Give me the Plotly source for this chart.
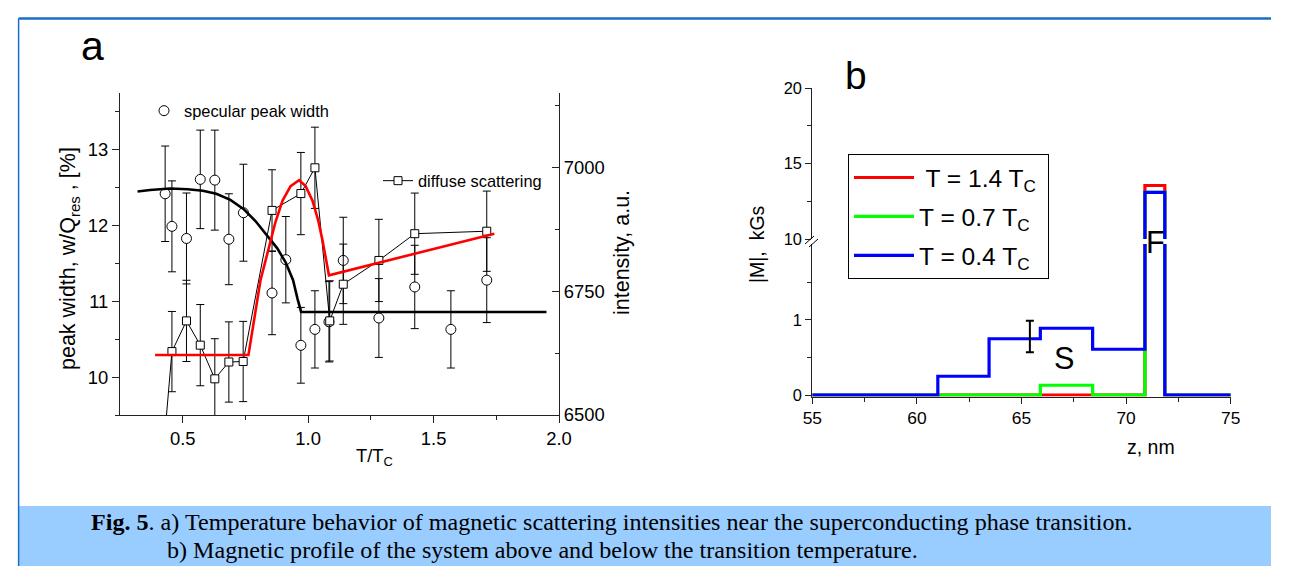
import plotly.graph_objects as go

# Measured placement of the figure in the photographed page: the figure's area
# lands on x 18..1271 and y 17..566 of the picture, so positions below are given
# in picture pixels and converted to paper fractions.
W, H = 1276, 568
X0, SX = 18.0, 1253.0
Y0, SY = 17.0, 549.0
def px(x):
    return (x - X0) / SX
def py(y):
    return 1 - (y - Y0) / SY
FS = 1.025  # font compensation for the slight downscale
def f(s):
    return round(s * FS, 1)

# ---------------- Panel a data ----------------
T_spec = [0.43, 0.457, 0.515, 0.570, 0.628, 0.684, 0.742, 0.856, 0.911, 0.971, 1.027, 1.083, 1.140, 1.282, 1.425, 1.569, 1.712]
w_spec = [12.42, 11.99, 11.83, 12.61, 12.60, 11.82, 12.17, 11.11, 11.55, 10.42, 10.63, 10.73, 11.54, 10.78, 11.19, 10.63, 11.28]
w_spec_err = [0.63, 0.60, 0.60, 0.65, 0.66, 0.60, 0.64, 0.55, 0.57, 0.50, 0.51, 0.53, 0.57, 0.52, 0.55, 0.51, 0.56]

T_diff = [0.41, 0.457, 0.515, 0.570, 0.628, 0.684, 0.741, 0.856, 0.971, 1.027, 1.086, 1.140, 1.282, 1.425, 1.712]
I_diff = [6350, 6628, 6690, 6641, 6573, 6607, 6608, 6913, 6947, 6999, 6690, 6764, 6812, 6866, 6871]
I_diff_err = [80, 81, 82, 82, 81, 81, 81, 82, 83, 82, 81, 81, 83, 82, 81]

T_fit_w = [0.32, 0.37, 0.45, 0.52, 0.58, 0.634, 0.69, 0.742, 0.79, 0.839, 0.877, 0.911, 0.94, 0.958, 0.972, 1.95]
w_fit = [12.45, 12.47, 12.49, 12.48, 12.46, 12.42, 12.34, 12.22, 12.06, 11.86, 11.70, 11.51, 11.28, 11.03, 10.86, 10.86]

T_fit_I = [0.39, 0.762, 0.81, 0.845, 0.87, 0.898, 0.93, 0.964, 0.99, 1.017, 1.04, 1.057, 1.083, 1.742]
I_fit = [6621, 6621, 6772, 6839, 6890, 6933, 6962, 6974, 6962, 6933, 6893, 6853, 6782, 6866]

# ---------------- Panel b data ----------------
z_edges = [55, 61, 63.45, 65.9, 68.4, 70.9, 71.85, 75]
M_red = [0, 0, 0, 0, 0, 13.55, 0, 0]
M_green = [0, 0, 0, 0.13, 0, 13.1, 0, 0]
M_blue = [0, 0.25, 0.75, 0.89, 0.61, 13.1, 0, 0]
profile_names = [" T = 1.4 T<sub>C</sub>&nbsp;", "T = 0.7 T<sub>C</sub>&nbsp;", "T = 0.4 T<sub>C</sub>&nbsp;"]
profile_colors = ["#FF0000", "#00FF00", "#0000FF"]

err_z = [65.4]
err_M = [0.78]
err_M_size = [0.21]

FONT = "Liberation Sans, Arial, sans-serif"
SERIF = "Liberation Serif, Times New Roman, serif"

fig = go.Figure()

# Panel a traces
fig.add_trace(go.Scatter(
    x=T_spec, y=w_spec, mode="markers", name="specular peak width",
    marker=dict(symbol="circle", size=10, color="white", line=dict(color="black", width=1)),
    error_y=dict(type="data", array=w_spec_err, color="black", thickness=1, width=4),
    xaxis="x", yaxis="y", legend="legend", cliponaxis=True))

fig.add_trace(go.Scatter(
    x=T_diff, y=I_diff, mode="lines+markers", name="diffuse scattering",
    line=dict(color="black", width=1),
    marker=dict(symbol="square", size=8, color="white", line=dict(color="black", width=1)),
    error_y=dict(type="data", array=I_diff_err, color="black", thickness=1, width=4),
    xaxis="x", yaxis="y2", legend="legend2", cliponaxis=True))

fig.add_trace(go.Scatter(
    x=T_fit_w, y=w_fit, mode="lines", line=dict(color="black", width=2.6),
    showlegend=False, xaxis="x", yaxis="y"))

fig.add_trace(go.Scatter(
    x=T_fit_I, y=I_fit, mode="lines", line=dict(color="#FF0000", width=2.6),
    showlegend=False, xaxis="x", yaxis="y2"))

# Panel b traces (lower and upper part of the broken axis)
for name, col, M in zip(profile_names, profile_colors, [M_red, M_green, M_blue]):
    fig.add_trace(go.Scatter(
        x=z_edges, y=M, mode="lines", line=dict(color=col, width=3.2, shape="hv"),
        name=name, legend="legend3", legendgroup=name,
        xaxis="x2", yaxis="y3"))
    fig.add_trace(go.Scatter(
        x=z_edges, y=M, mode="lines", line=dict(color=col, width=3.2, shape="hv"),
        showlegend=False, legendgroup=name, xaxis="x2", yaxis="y4"))

fig.add_trace(go.Scatter(
    x=err_z, y=err_M, mode="markers", marker=dict(size=1, color="black"),
    error_y=dict(type="data", array=err_M_size, color="black", thickness=2, width=4),
    showlegend=False, xaxis="x2", yaxis="y3"))

axis_common = dict(showline=True, linecolor="#222", linewidth=1.2, showgrid=False,
                   zeroline=False, ticks="outside", tickcolor="#222", tickwidth=1.2,
                   tickfont=dict(family=FONT, size=f(18), color="black"))

fig.update_layout(
    width=W, height=H, autosize=False,
    margin=dict(l=0, r=0, t=0, b=0),
    paper_bgcolor="white", plot_bgcolor="white",
    xaxis=dict(domain=[px(120), px(559)], range=[0.25, 2.0], anchor="y",
               tickvals=[0.5, 1.0, 1.5, 2.0], ticktext=["0.5", "1.0", "1.5", "2.0"], ticklen=7,
               minor=dict(tickvals=[0.75, 1.25, 1.75], ticklen=4, ticks="outside", tickcolor="#222"),
               **axis_common),
    yaxis=dict(domain=[py(415), py(93)], range=[9.5, 13.75], anchor="x",
               tickvals=[10, 11, 12, 13], ticklen=7,
               minor=dict(tickvals=[9.5, 10.5, 11.5, 12.5, 13.5], ticklen=4, ticks="outside", tickcolor="#222"),
               **axis_common),
    yaxis2=dict(overlaying="y", side="right", anchor="x", range=[6500, 7150],
                tickvals=[6500, 6750, 7000], ticklen=7,
                minor=dict(tickvals=[6625, 6875, 7125], ticklen=4, ticks="inside", tickcolor="#222"),
                **{**axis_common, "ticks": "inside"}),
    xaxis2=dict(domain=[px(812.3), px(1230.7)], range=[55, 75], anchor="y3",
                tickvals=[55, 60, 65, 70, 75], ticklen=6,
                minor=dict(tickvals=[57.5, 62.5, 67.5, 72.5], ticklen=4, ticks="outside", tickcolor="#222"),
                **{**axis_common, "tickfont": dict(family=FONT, size=f(17), color="black")}),
    yaxis3=dict(domain=[py(396.5), py(244)], range=[-0.02, 2.013], anchor="x2",
                tickvals=[0, 1], ticklen=6,
                minor=dict(tickvals=[0.5, 1.5], ticklen=4, ticks="outside", tickcolor="#222"),
                **{**axis_common, "tickfont": dict(family=FONT, size=f(16), color="black")}),
    yaxis4=dict(domain=[py(239), py(88.3)], range=[10, 20], anchor="x2",
                tickvals=[10, 15, 20], ticklen=6,
                minor=dict(tickvals=[12.5, 17.5], ticklen=4, ticks="outside", tickcolor="#222"),
                **{**axis_common, "tickfont": dict(family=FONT, size=f(16), color="black")}),
    legend=dict(x=px(144), y=py(111), xanchor="left", yanchor="middle",
                bgcolor="rgba(0,0,0,0)", font=dict(family=FONT, size=f(16), color="black")),
    legend2=dict(x=px(378), y=py(181), xanchor="left", yanchor="middle",
                 bgcolor="rgba(0,0,0,0)", font=dict(family=FONT, size=f(16), color="black")),
    legend3=dict(x=px(848), y=py(154), xanchor="left", yanchor="top",
                 bgcolor="white", bordercolor="black", borderwidth=1,
                 tracegroupgap=4, itemwidth=60,
                 font=dict(family=FONT, size=f(24), color="black")),
    showlegend=True,
)

ann = [
    dict(text="a", x=px(92), y=py(46), font=dict(size=f(40))),
    dict(text="b", x=px(856), y=py(76), font=dict(size=f(38))),
    dict(text="peak width, w/Q<sub>res</sub> , [%]", x=px(69), y=py(259), textangle=-90, font=dict(size=f(21))),
    dict(text="intensity, a.u.", x=px(622), y=py(253), textangle=-90, font=dict(size=f(21))),
    dict(text="T/T<sub>C</sub>", x=px(374), y=py(457), font=dict(size=f(18))),
    dict(text="|M|,  kGs", x=px(757), y=py(244), textangle=-90, font=dict(size=f(19))),
    dict(text="z, nm", x=px(1151), y=py(447), font=dict(size=f(19))),
    dict(text="S", x=px(1064), y=py(358), font=dict(size=f(30))),
    dict(text="F", x=px(1155), y=py(242), font=dict(size=f(30))),
]
for a in ann:
    a.setdefault("xanchor", "center")
    a.setdefault("yanchor", "middle")
    a["xref"] = "paper"
    a["yref"] = "paper"
    a["showarrow"] = False
    a["font"] = dict(family=FONT, color="black", **a["font"])
    fig.add_annotation(**a)

fig.add_annotation(text="<b>Fig. 5</b>. a) Temperature behavior of magnetic scattering intensities near the superconducting phase transition.",
                   x=px(89), y=py(522), xref="paper", yref="paper", xanchor="left", yanchor="middle",
                   showarrow=False, font=dict(family=SERIF, size=f(23.5), color="black"))
fig.add_annotation(text="b) Magnetic profile of the system above and below the transition temperature.",
                   x=px(165), y=py(550), xref="paper", yref="paper", xanchor="left", yanchor="middle",
                   showarrow=False, font=dict(family=SERIF, size=f(23.5), color="black"))

shapes = [
    dict(type="rect", x0=px(19), x1=1, y0=0, y1=py(506), fillcolor="#99CCFF", line=dict(width=0), layer="below"),
    dict(type="line", x0=px(18.6), x1=1, y0=py(18.4), y1=py(18.4), line=dict(color="#1A6FC4", width=2.5)),
    dict(type="line", x0=px(18.6), x1=px(18.6), y0=py(18.4), y1=0, line=dict(color="#1A6FC4", width=1.5)),
    dict(type="line", x0=px(805), x1=px(814), y0=py(244), y1=py(236), line=dict(color="black", width=1)),
    dict(type="line", x0=px(809), x1=px(818), y0=py(247), y1=py(239), line=dict(color="black", width=1)),
]
for s in shapes:
    s["xref"] = "paper"
    s["yref"] = "paper"
    fig.add_shape(**s)

fig.write_html("out.html", config={"displayModeBar": False})
